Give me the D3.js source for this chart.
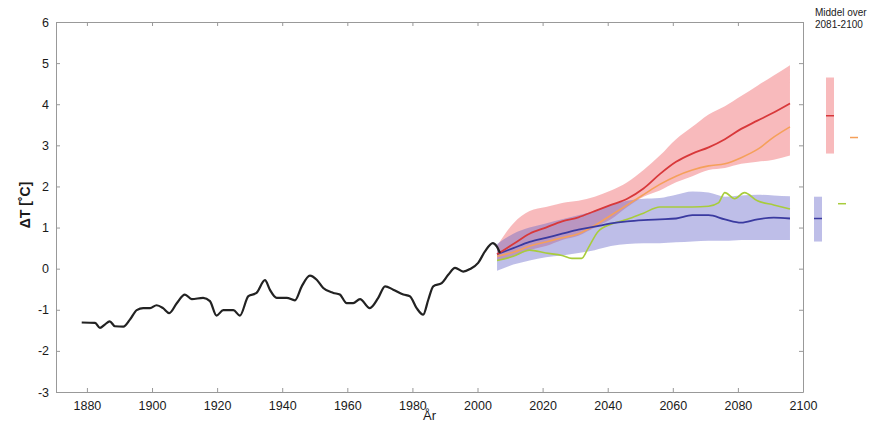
<!DOCTYPE html>
<html>
<head>
<meta charset="utf-8">
<script src="https://cdn.jsdelivr.net/npm/d3@7"></script>
<style>
  body { margin: 0; background: #fff; }
  .tick text { font-family: "Liberation Sans", Arial, sans-serif; font-size: 12.5px; fill: #1a1a1a; }
  .text { font-family: "Liberation Sans", Arial, sans-serif; fill: #1a1a1a; }
</style>
</head>
<body>
<div id="chart"></div>
<script>
// observed temperature (black)
var obsYears = [1878.4, 1882.5, 1884, 1885.5, 1887, 1888.6, 1891.2, 1893.2, 1895.3, 1897.3, 1899.4, 1901.4, 1903.4, 1905.3, 1907.6, 1910.1, 1912.2, 1915.7, 1917.8, 1919.8, 1921.9, 1925, 1927, 1929.6, 1932.1, 1934.7, 1936.2, 1938.3, 1941.4, 1943.9, 1946, 1948.5, 1950.6, 1952.6, 1955.7, 1957.7, 1959.8, 1961.8, 1963.9, 1966.9, 1969.5, 1971.6, 1974.1, 1977.2, 1979.2, 1981.3, 1983.3, 1984.9, 1986.4, 1989, 1991, 1993.1, 1995.6, 1997.7, 2000.2, 2002.3, 2004.7, 2005.9, 2006.9];
var obsValues = [-1.31, -1.32, -1.44, -1.36, -1.28, -1.40, -1.41, -1.24, -1.01, -0.96, -0.96, -0.89, -0.96, -1.08, -0.84, -0.63, -0.74, -0.71, -0.79, -1.14, -1.01, -1.01, -1.14, -0.67, -0.59, -0.28, -0.51, -0.71, -0.71, -0.77, -0.43, -0.17, -0.27, -0.47, -0.59, -0.63, -0.84, -0.84, -0.74, -0.96, -0.71, -0.43, -0.51, -0.63, -0.67, -0.96, -1.12, -0.75, -0.43, -0.35, -0.15, 0.02, -0.07, -0.01, 0.14, 0.42, 0.62, 0.54, 0.38];

// scenarios
var scenYears = [2006, 2011, 2016, 2021, 2026, 2031, 2036, 2041, 2046, 2051, 2056, 2061, 2066, 2071, 2076, 2081, 2086, 2091, 2096];
var redHigh  = [0.55, 1.1, 1.4, 1.5, 1.6, 1.65, 1.75, 1.9, 2.1, 2.4, 2.75, 3.15, 3.45, 3.75, 3.95, 4.2, 4.45, 4.7, 4.95];
var redLow   = [0.2, 0.3, 0.45, 0.55, 0.7, 0.8, 1.0, 1.2, 1.5, 1.75, 1.9, 2.1, 2.25, 2.4, 2.45, 2.55, 2.6, 2.65, 2.75];
var redMean  = [0.35, 0.6, 0.85, 1.0, 1.15, 1.25, 1.4, 1.55, 1.7, 1.95, 2.3, 2.6, 2.8, 2.95, 3.15, 3.4, 3.6, 3.8, 4.02];
var orange   = [0.3, 0.4, 0.55, 0.65, 0.75, 0.85, 1.05, 1.3, 1.55, 1.8, 2.05, 2.25, 2.4, 2.5, 2.55, 2.7, 2.9, 3.2, 3.45];
var blueHigh = [0.6, 0.85, 1.0, 1.1, 1.2, 1.3, 1.4, 1.55, 1.65, 1.7, 1.72, 1.8, 1.88, 1.85, 1.75, 1.78, 1.8, 1.78, 1.76];
var blueLow  = [-0.05, 0.1, 0.2, 0.28, 0.32, 0.38, 0.45, 0.55, 0.6, 0.62, 0.62, 0.64, 0.66, 0.68, 0.68, 0.7, 0.7, 0.7, 0.7];
var blueMean = [0.35, 0.5, 0.65, 0.75, 0.85, 0.95, 1.02, 1.1, 1.15, 1.18, 1.2, 1.22, 1.3, 1.3, 1.2, 1.12, 1.2, 1.24, 1.22];
var greenYears  = [2006, 2011, 2016, 2021, 2026, 2029, 2032, 2034, 2037, 2041, 2046, 2051, 2056, 2061, 2066, 2071, 2074, 2076, 2079, 2082, 2086, 2091, 2096];
var greenValues = [0.2, 0.3, 0.45, 0.38, 0.32, 0.25, 0.25, 0.5, 0.9, 1.08, 1.2, 1.35, 1.5, 1.5, 1.5, 1.52, 1.6, 1.85, 1.7, 1.85, 1.65, 1.55, 1.45];

// means over 2081-2100 (right panel)
var sideKeys  = ["blue", "red", "green", "orange"];
var sideMean  = [1.22, 3.72, 1.58, 3.19];
var sideLow   = [0.66, 2.8, null, null];
var sideHigh  = [1.75, 4.65, null, null];

var yTicks = [-3, -2, -1, 0, 1, 2, 3, 4, 5, 6];
var xTicks = [1880, 1900, 1920, 1940, 1960, 1980, 2000, 2020, 2040, 2060, 2080, 2100];

var colors = {red: "#d8383a", orange: "#f5a05a", blue: "#3a3aa0", green: "#a8cc3c",
              redBand: "rgba(238,90,95,0.42)", blueBand: "rgba(100,100,200,0.42)"};

// dimensions
var margin = {top: 22, right: 69, bottom: 31, left: 56};
var width = 872 - margin.left - margin.right;
var height = 423 - margin.top - margin.bottom;

var svg = d3.select("#chart")
    .append("svg")
        .attr("width", 872)
        .attr("height", 423)
    .append("g")
        .attr("transform", "translate(" + margin.left + "," + margin.top + ")");

var xScale = d3.scaleLinear().domain([1870.5, 2100]).range([0, width]);
var yScale = d3.scaleLinear().domain([-3, 6]).range([height, 0]);

// bands
function band(lo, hi) {
  return d3.area()
    .x(function(d, i) { return xScale(scenYears[i]); })
    .y0(function(d, i) { return yScale(lo[i]); })
    .y1(function(d, i) { return yScale(hi[i]); })
    .curve(d3.curveMonotoneX)(scenYears);
}
svg.append("path").attr("d", band(redLow, redHigh)).style("fill", colors.redBand);
svg.append("path").attr("d", band(blueLow, blueHigh)).style("fill", colors.blueBand);

function line(xs, ys, color, w) {
  var l = d3.line()
    .x(function(d, i) { return xScale(xs[i]); })
    .y(function(d, i) { return yScale(ys[i]); })
    .curve(d3.curveMonotoneX);
  svg.append("path")
    .attr("d", l(xs))
    .style("fill", "none")
    .style("stroke", color)
    .style("stroke-width", w);
}
line(greenYears, greenValues, colors.green, 1.6);
line(scenYears, orange, colors.orange, 1.6);
line(scenYears, blueMean, colors.blue, 1.8);
line(scenYears, redMean, colors.red, 1.8);
line(obsYears, obsValues, "#222", 2.2);

// axes, ticks inward on all four sides
var axisColor = "#999";
var xAxis = svg.append("g")
    .attr("transform", "translate(0," + height + ")")
    .call(d3.axisBottom(xScale).tickValues(xTicks).tickFormat(d3.format("d")).tickSizeInner(-4).tickSizeOuter(0).tickPadding(9));
var xTop = svg.append("g")
    .call(d3.axisTop(xScale).tickValues(xTicks).tickFormat("").tickSizeInner(-4).tickSizeOuter(0));
var yAxis = svg.append("g")
    .call(d3.axisLeft(yScale).tickValues(yTicks).tickFormat(function(d) { return String(d); }).tickSizeInner(-4).tickSizeOuter(0).tickPadding(7));
var yRight = svg.append("g")
    .attr("transform", "translate(" + width + ",0)")
    .call(d3.axisRight(yScale).tickValues(yTicks).tickFormat("").tickSizeInner(-4).tickSizeOuter(0));
svg.selectAll(".domain, .tick line").style("stroke", axisColor);

// right panel
var sideX = d3.scalePoint().domain(sideKeys).range([width + 15, width + 51]);
sideKeys.forEach(function(k, i) {
  if (sideLow[i] !== null) {
    svg.append("rect")
      .attr("x", sideX(k) - 4)
      .attr("y", yScale(sideHigh[i]))
      .attr("width", 8)
      .attr("height", yScale(sideLow[i]) - yScale(sideHigh[i]))
      .style("fill", k === "red" ? colors.redBand : colors.blueBand);
  }
  svg.append("line")
    .attr("x1", sideX(k) - 4)
    .attr("x2", sideX(k) + 4)
    .attr("y1", yScale(sideMean[i]))
    .attr("y2", yScale(sideMean[i]))
    .style("stroke", colors[k])
    .style("stroke-width", 1.5);
});

svg.append("text")
  .attr("class", "text")
  .attr("x", width + 12)
  .attr("y", -6)
  .style("font-size", "10px")
  .text("Middel over");
svg.append("text")
  .attr("class", "text")
  .attr("x", width + 12)
  .attr("y", 6)
  .style("font-size", "10px")
  .text("2081-2100");

// axis titles
svg.append("text")
  .attr("class", "text")
  .attr("transform", "rotate(-90)")
  .attr("x", -(yScale(1.55)))
  .attr("y", -26)
  .style("text-anchor", "middle")
  .style("font-size", "14px")
  .style("font-weight", "bold")
  .text("ΔT [˚C]");
svg.append("text")
  .attr("class", "text")
  .attr("x", width / 2)
  .attr("y", height + 28)
  .style("text-anchor", "middle")
  .style("font-size", "13px")
  .text("År");
</script>
</body>
</html>
